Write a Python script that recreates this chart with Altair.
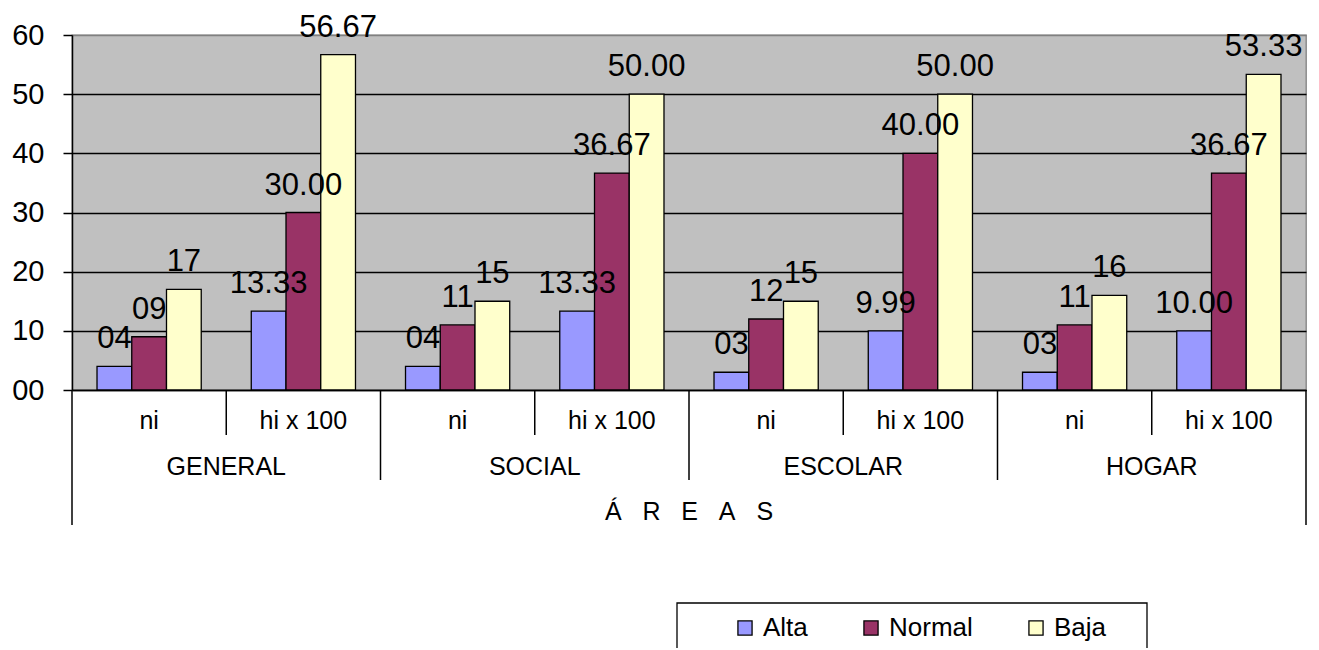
import altair as alt
import pandas as pd

areas = ["GENERAL", "SOCIAL", "ESCOLAR", "HOGAR"]
medidas = ["ni", "hi x 100"]
series = ["Alta", "Normal", "Baja"]
colors = ["#9999FF", "#993366", "#FFFFCC"]

alta = [4, 13.33, 4, 13.33, 3, 9.99, 3, 10.00]
normal = [9, 30.00, 11, 36.67, 12, 40.00, 11, 36.67]
baja = [17, 56.67, 15, 50.00, 15, 50.00, 16, 53.33]
y_ticks = [0, 10, 20, 30, 40, 50, 60]
axis_title = "Á\u00a0\u00a0\u00a0R\u00a0\u00a0\u00a0E\u00a0\u00a0\u00a0A\u00a0\u00a0\u00a0S"

cats = [f"{a}|{m}" for a in areas for m in medidas]
cat_df = pd.DataFrame({
    "cat": cats,
    "area": [a for a in areas for m in medidas],
    "medida": [m for a in areas for m in medidas],
})

rows = []
for s, vals in zip(series, [alta, normal, baja]):
    for c, m, v in zip(cats, cat_df["medida"], vals):
        lab = f"{int(round(v)):02d}" if m == "ni" else f"{v:.2f}"
        rows.append({"cat": c, "serie": s, "valor": v, "label": lab})
df = pd.DataFrame(rows)

W, H = 1234, 355
FONT = "Liberation Sans"

x_enc = alt.X(
    "cat:N",
    scale=alt.Scale(domain=cats, paddingInner=0, paddingOuter=0),
    axis=alt.Axis(
        title=None, labelExpr="split(datum.label, '|')[1]", ticks=False, tickSize=0,
        labelAngle=0, labelFontSize=25, labelFont=FONT, labelColor="black",
        labelBaseline="middle", labelPadding=30, domainColor="black", domainWidth=1.5,
        grid=False,
    ),
)
xoff = alt.XOffset("serie:N", scale=alt.Scale(domain=series, paddingInner=0, paddingOuter=0.72))
y_enc = alt.Y(
    "valor:Q",
    scale=alt.Scale(domain=[0, 60], nice=False),
    axis=alt.Axis(
        title=None, values=y_ticks, format="02d", labelFontSize=29, labelFont=FONT,
        labelColor="black", tickSize=9, tickColor="black", tickWidth=1.5,
        domainColor="black", domainWidth=1.5, labelPadding=19,
        gridColor={"condition": {"test": "datum.value === 60", "value": "#808080"}, "value": "black"},
        gridWidth=1.3,
    ),
)
color_enc = alt.Color(
    "serie:N",
    scale=alt.Scale(domain=series, range=colors),
    legend=alt.Legend(
        title=None, orient="none", direction="horizontal", legendX=660, legendY=580,
        symbolType="square", symbolSize=200, symbolStrokeColor="black", symbolStrokeWidth=1.3,
        labelFontSize=26, labelFont=FONT, labelColor="black", labelOffset=5,
        columnPadding=50, padding=0,
    ),
)

layers = []

# legend frame
layers.append(
    alt.Chart(pd.DataFrame({"k": [0]})).mark_rect(fill="white", stroke="black", strokeWidth=1.3).encode(
        x=alt.value(605), x2=alt.value(1075), y=alt.value(568), y2=alt.value(670)
    )
)

for s in series:
    layers.append(
        alt.Chart(df).transform_filter(alt.datum.serie == s).mark_bar(stroke="black", strokeWidth=1.3).encode(
            x=x_enc, xOffset=xoff, y=y_enc, color=color_enc
        )
    )
for s in series:
    layers.append(
        alt.Chart(df).transform_filter(alt.datum.serie == s).mark_text(
            fontSize=31, font=FONT, color="black", baseline="alphabetic", dy=-18
        ).encode(x=x_enc, xOffset=xoff, y=y_enc, text="label:N")
    )

# separators under category axis
cat_chart = alt.Chart(cat_df)
layers.append(
    cat_chart.transform_filter(alt.datum.medida == "hi x 100").mark_rule(color="black", strokeWidth=1.5).encode(
        x=alt.X("cat:N", bandPosition=0), y=alt.value(H), y2=alt.value(H + 45)
    )
)
layers.append(
    cat_chart.transform_filter((alt.datum.medida == "ni") & (alt.datum.area != "GENERAL")).mark_rule(color="black", strokeWidth=1.5).encode(
        x=alt.X("cat:N", bandPosition=0), y=alt.value(H), y2=alt.value(H + 90)
    )
)
layers.append(
    cat_chart.transform_filter((alt.datum.medida == "ni") & (alt.datum.area == "GENERAL")).mark_rule(color="black", strokeWidth=1.5).encode(
        x=alt.X("cat:N", bandPosition=0), y=alt.value(H), y2=alt.value(H + 135)
    )
)
layers.append(
    cat_chart.transform_filter((alt.datum.medida == "hi x 100") & (alt.datum.area == "HOGAR")).mark_rule(color="black", strokeWidth=1.5).encode(
        x=alt.X("cat:N", bandPosition=1), y=alt.value(H), y2=alt.value(H + 135)
    )
)
# area labels
layers.append(
    cat_chart.transform_filter(alt.datum.medida == "ni").mark_text(
        fontSize=25, font=FONT, color="black", baseline="middle"
    ).encode(x=alt.X("cat:N", bandPosition=1), y=alt.value(H + 77), text="area:N")
)
# axis title
layers.append(
    alt.Chart(pd.DataFrame({"t": [axis_title]})).mark_text(
        fontSize=25, font=FONT, color="black", baseline="middle"
    ).encode(x=alt.value(W / 2), y=alt.value(H + 122), text="t:N")
)

chart = alt.layer(*layers).properties(
    width=W, height=H,
    autosize=alt.AutoSizeParams(type="none"),
    padding={"left": 64, "top": 27, "right": 5, "bottom": 258},
).configure_view(fill="#C0C0C0", stroke="#808080", strokeWidth=1.3)

chart.save("out.html", embed_options={"renderer": "svg", "actions": False})
